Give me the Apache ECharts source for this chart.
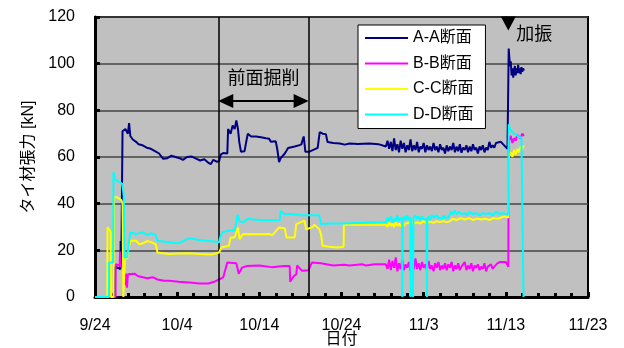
<!DOCTYPE html>
<html>
<head>
<meta charset="utf-8">
<script src="https://cdn.jsdelivr.net/npm/echarts@6/dist/echarts.min.js"></script>
<style>
  html, body { margin: 0; padding: 0; background: #fff; }
  #chart { width: 624px; height: 348px; }
</style>
</head>
<body>
<div id="chart"></div>
<script>
// x = days elapsed since 9/24, y = tie-rod tension [kN]
const dateLabels = ['9/24', '10/4', '10/14', '10/24', '11/3', '11/13', '11/23'];
const seriesNames = ['A-A断面', 'B-B断面', 'C-C断面', 'D-D断面'];
const seriesColors = ['#000080', '#ff00ff', '#ffff00', '#00ffff'];

const excavationStart = 15;   // 10/9
const excavationEnd = 26;     // 10/20
const shakingDay = 50.3;

const sectionAA = [
  [0, 0], [2.4, 0], [2.45, 13], [3.1, 12], [3.12, 24], [3.2, 13], [3.3, 13], [3.35, 71],
  [3.7, 72], [4.0, 70], [4.15, 74.5], [4.3, 69], [4.6, 67.5], [5.0, 66.5], [5.3, 65.5],
  [5.8, 65], [6.3, 64], [6.8, 63.5], [7.3, 62.5], [7.8, 61.5], [8.3, 59.2], [8.8, 59.5],
  [9.3, 60.6], [9.8, 60], [10.3, 59.5], [10.7, 58.8], [11.2, 60], [11.8, 60.2], [12.3, 59.3],
  [12.8, 58.5], [13.3, 59], [13.8, 57.5], [14.1, 57], [14.4, 58.8], [14.8, 58], [15.1, 58.2],
  [15.3, 61], [15.6, 61.7], [16.1, 61.5], [16.2, 72], [16.5, 70], [16.75, 73.5], [17.0, 72],
  [17.2, 75.7], [17.4, 72], [17.56, 66.4], [17.76, 62.3], [18.2, 62.5], [18.4, 66.4],
  [18.6, 70], [19.0, 68.8], [19.6, 68.8], [20.2, 68.5], [20.8, 68], [21.2, 67.8], [21.4, 66.5],
  [22.0, 66.7], [22.2, 63], [22.4, 57.8], [22.6, 59.5], [23.1, 61.5], [23.5, 63.9],
  [24.3, 64.5], [25.1, 65.3], [25.4, 68.8], [25.6, 62.3], [26.1, 62.3], [27.1, 63.9],
  [27.35, 70.7], [27.7, 70], [28.1, 69.8], [28.3, 66.4], [29.0, 66], [29.8, 65.8],
  [30.4, 65.3], [31.0, 65.8], [32.0, 65.6], [33.4, 65.8], [33.6, 66.4], [34.5, 65.5],
  [35.4, 64.5], [35.6, 67], [35.8, 63.5], [36.0, 66.5], [36.2, 62.5], [36.4, 68], [36.6, 63],
  [36.8, 65.5], [37.0, 62], [37.2, 67], [37.4, 63.5], [37.6, 66], [37.8, 62], [38.0, 65],
  [38.2, 63], [38.4, 67.5], [38.6, 62.5], [38.8, 65], [39.0, 63], [39.2, 66.5], [39.4, 62],
  [39.6, 64.5], [39.8, 63.5], [40.0, 66], [40.2, 62], [40.4, 65], [40.6, 63], [40.8, 64.5],
  [41.0, 62.5], [41.2, 66], [41.4, 63], [41.6, 64.5], [41.8, 62], [42.0, 65.5], [42.2, 63],
  [42.4, 64], [42.6, 61.5], [42.8, 65], [43.0, 62.5], [43.2, 64.5], [43.4, 63], [43.6, 66],
  [43.8, 62], [44.0, 64.5], [44.2, 62.5], [44.4, 65.5], [44.6, 61.8], [44.8, 64], [45.0, 63],
  [45.2, 65], [45.4, 62], [45.6, 64.5], [45.8, 62.5], [46.0, 65.5], [46.2, 63], [46.4, 64],
  [46.6, 61.5], [46.8, 64.5], [47.0, 63], [47.2, 65], [47.4, 62], [47.6, 64], [47.8, 63],
  [48.0, 66.5], [48.2, 64], [48.4, 65], [48.6, 64], [48.8, 66], [49.0, 65.5], [49.4, 66.5],
  [49.8, 65], [50.2, 63.5], [50.3, 64], [50.35, 106.5], [50.5, 99], [50.6, 101], [50.7, 95],
  [50.8, 98], [50.9, 94], [51.0, 97], [51.1, 99], [51.2, 95], [51.3, 98], [51.4, 96],
  [51.5, 99.5], [51.6, 96], [51.7, 98], [51.8, 95.5], [51.9, 98.5], [52.0, 96.5], [52.1, 98],
  [52.2, 97]
];

const sectionBB = [
  [0, 0], [2.5, 0], [2.52, 14], [3.0, 13.5], [3.05, 19.5], [3.15, 13], [3.5, 12.5], [3.6, 5],
  [3.75, 10], [3.9, 4], [4.0, 9.7], [4.8, 10], [5.2, 9], [5.8, 8.5], [6.4, 8], [7.0, 8.5],
  [7.6, 7.5], [8.4, 7], [9.0, 7], [10.2, 6.5], [11.5, 6.2], [12.7, 5.8], [13.8, 5.8],
  [14.5, 6.5], [15.1, 7.5], [15.6, 8.4], [16.1, 14.8], [17.2, 14.5], [17.5, 10], [17.9, 12.6],
  [18.5, 13.3], [20.0, 13.5], [21.5, 12.8], [23.0, 13.3], [23.7, 13.3], [23.75, 6.5],
  [24.2, 9], [24.5, 9.7], [24.6, 13.5], [25.2, 11.2], [26.0, 11.5], [26.4, 14.8], [27.5, 14.5],
  [29.0, 13.5], [30.3, 13.8], [31.0, 13.5], [32.5, 14], [33.0, 13.5], [34.0, 14], [35.4, 14],
  [35.6, 12], [35.8, 16], [36.0, 11.5], [36.2, 15.5], [36.4, 12.5], [36.6, 17], [36.8, 11],
  [37.0, 14.5], [37.2, 12], [37.4, 16], [37.6, 11.5], [37.8, 14], [38.0, 12.5], [38.2, 15],
  [38.4, 11], [38.6, 13.5], [38.8, 12], [39.0, 16.5], [39.2, 12], [39.4, 14.5], [39.6, 11.5],
  [39.8, 15], [40.0, 12.5], [40.2, 14], [40.4, 11.5], [40.6, 15.5], [40.8, 12], [41.0, 13.5],
  [41.2, 11], [41.4, 14.5], [41.6, 12.5], [41.8, 15], [42.0, 11.5], [42.2, 13.5], [42.4, 12],
  [42.6, 14.5], [42.8, 11.5], [43.0, 14], [43.2, 12.5], [43.4, 15], [43.6, 11], [43.8, 13.5],
  [44.0, 12], [44.2, 14.5], [44.4, 11.5], [44.6, 13], [44.8, 12.5], [45.0, 15], [45.2, 11.5],
  [45.4, 13.5], [45.6, 12], [45.8, 14.5], [46.0, 11], [46.2, 13.5], [46.4, 12.5], [46.6, 14],
  [46.8, 11.5], [47.0, 13], [47.2, 12], [47.4, 14.5], [47.6, 11], [47.8, 13], [48.0, 12.5],
  [48.2, 14], [48.4, 12], [48.6, 13], [48.8, 13.5], [49.0, 14.5], [49.3, 15], [49.6, 15],
  [50.0, 15], [50.2, 14.5], [50.3, 13], [50.35, 67], [50.6, 69], [50.8, 66], [51.0, 68],
  [51.2, 67], [51.4, 69.5], [51.6, 70], [51.8, 68], [52.0, 70], [52.2, 69]
];

const sectionCC = [
  [0, 0], [1.5, 0], [1.52, 29.8], [1.75, 29.8], [1.9, 28], [1.95, 0], [2.25, 0], [2.3, 42.7],
  [2.7, 42.7], [2.9, 42], [3.2, 41.5], [3.35, 40], [3.45, 0], [3.6, 0], [3.65, 16.9],
  [3.9, 16.5], [4.1, 21.2], [4.35, 24.1], [5.0, 24.1], [5.4, 22.6], [5.8, 23], [6.4, 24],
  [6.8, 23.5], [7.4, 22.6], [7.6, 19.1], [9.0, 18.4], [10.2, 18.6], [11.5, 18.8], [12.7, 18.4],
  [14.2, 18.2], [15.1, 19.1], [15.4, 21.2], [16.3, 22], [16.5, 25.5], [17.0, 25.5],
  [17.4, 29.8], [17.6, 24.8], [18.0, 27], [19.6, 26.9], [21.2, 27], [21.6, 26.5], [22.4, 29.8],
  [23.1, 29.5], [23.3, 25.5], [24.3, 25.5], [24.5, 31.2], [25.5, 32.7], [25.7, 29], [26.5, 30],
  [26.7, 31], [27.3, 29], [27.5, 27], [27.7, 22], [28.5, 21.5], [29.5, 21.2], [30.25, 21.5],
  [30.3, 31], [33.0, 31], [35.4, 31], [35.6, 30], [35.8, 32], [36.0, 30.5], [36.2, 31.5],
  [36.4, 30], [36.6, 32], [36.8, 30.5], [37.0, 31.5], [37.2, 30.2], [37.4, 32], [37.6, 30.5],
  [37.8, 31.5], [38.0, 31], [38.4, 32], [38.8, 31.5], [39.2, 32], [39.6, 31.5], [40.0, 32.5],
  [40.4, 31.5], [40.8, 32.3], [41.2, 31.8], [41.6, 32.5], [42.0, 32], [42.4, 32.6], [42.8, 32],
  [43.2, 32.5], [43.5, 33.5], [44.0, 33], [44.5, 33.8], [45.0, 33.2], [45.5, 33.8], [46.0, 33],
  [46.5, 33.6], [47.0, 33.2], [47.5, 33.5], [48.0, 33], [48.5, 33.8], [49.0, 33.5],
  [49.5, 34.2], [50.0, 34.5], [50.3, 34], [50.35, 60], [50.6, 62], [50.8, 60], [51.0, 63],
  [51.2, 61], [51.4, 63.5], [51.6, 62], [51.8, 64.5], [52.0, 63.5], [52.2, 65]
];

const sectionDD = [
  [0, 0], [1.7, 0], [1.72, 14.8], [2.2, 14.8], [2.25, 53.5], [2.5, 50], [2.9, 49.5],
  [3.3, 48.5], [3.5, 43.4], [3.6, 16.9], [3.9, 17], [4.3, 27.7], [5.0, 27], [5.8, 27.7],
  [6.4, 26.5], [6.8, 27.3], [7.4, 26.5], [7.6, 24.1], [9.0, 23.5], [10.2, 23], [11.0, 24.5],
  [11.5, 25.2], [12.7, 24.4], [14.5, 23.8], [15.1, 23.5], [15.3, 26.2], [15.5, 27.7],
  [16.3, 28.5], [17.0, 28.5], [17.36, 35.2], [17.6, 32.4], [18.0, 32], [18.6, 33.5],
  [20.2, 32.9], [22.0, 33], [22.5, 32.9], [22.6, 37], [23.0, 35.6], [24.0, 35.6], [25.0, 35],
  [26.0, 35], [27.3, 35], [27.5, 31.3], [28.5, 31.5], [30.0, 31.5], [33.0, 31.8], [35.4, 32],
  [35.6, 34], [35.8, 32.5], [36.0, 34.5], [36.2, 32], [36.4, 33.5], [36.6, 32.5], [36.8, 35],
  [37.0, 32.5], [37.2, 34], [37.38, 33], [37.4, 0], [37.45, 33], [37.6, 34.5], [37.8, 33],
  [38.0, 35], [38.2, 33], [38.38, 34], [38.4, 0], [38.45, 33.5], [38.65, 34], [38.7, 0],
  [38.75, 34], [39.0, 35], [39.2, 33.5], [39.4, 34.5], [39.6, 33], [39.8, 34.5], [40.0, 33.5],
  [40.2, 34], [40.35, 33], [40.4, 0], [40.45, 33.5], [40.6, 34.5], [40.8, 33], [41.0, 35],
  [41.2, 34], [41.4, 33.5], [41.6, 35], [41.8, 34], [42.0, 34.5], [42.2, 33.5], [42.4, 35],
  [42.6, 34], [42.8, 34.5], [43.0, 34], [43.3, 36.5], [43.5, 35.5], [43.8, 37], [44.0, 35.5],
  [44.3, 36.5], [44.6, 35.5], [45.0, 36], [45.3, 35], [45.6, 36.5], [46.0, 35.5], [46.4, 36],
  [46.8, 35], [47.2, 36], [47.6, 35.5], [48.0, 36], [48.4, 35], [48.8, 36.5], [49.2, 35.5],
  [49.6, 36], [50.0, 35.5], [50.3, 35.5], [50.35, 74], [50.5, 72], [50.7, 71], [51.0, 70],
  [51.3, 69.5], [51.6, 68.5], [51.9, 68.5], [52.1, 68], [52.15, 0]
];

const seriesData = [sectionAA, sectionBB, sectionCC, sectionDD];

const FONT = "'Liberation Sans', Arial, 'Noto Sans CJK JP', sans-serif";
const chart = echarts.init(document.getElementById('chart'), null, { renderer: 'canvas' });

const series = seriesData.map((data, i) => ({
  name: seriesNames[i],
  type: 'line',
  data: data,
  symbol: 'none',
  showSymbol: false,
  silent: true,
  lineStyle: { color: seriesColors[i], width: 2 },
  itemStyle: { color: seriesColors[i] },
  z: 3 + i
}));

// Excavation period: boundary lines, double-headed arrow and caption
series[0].markLine = {
  silent: true,
  animation: false,
  symbol: 'none',
  label: { show: false },
  lineStyle: { color: '#000', width: 1.5, type: 'solid' },
  data: [{ xAxis: excavationStart }, { xAxis: excavationEnd }]
};
series[1].markLine = {
  silent: true,
  animation: false,
  symbol: ['triangle', 'triangle'],
  symbolSize: [14, 15],
  label: { show: false },
  lineStyle: { color: '#000', width: 2, type: 'solid' },
  itemStyle: { color: '#000' },
  data: [[{ coord: [excavationStart + 0.91, 84] }, { coord: [excavationEnd - 0.91, 84] }]]
};
series[0].markPoint = {
  silent: true,
  animation: false,
  data: [
    {
      coord: [(excavationStart + excavationEnd) / 2, 93.4],
      symbolSize: 0,
      label: { show: true, position: 'inside', formatter: '前面掘削', color: '#000', fontSize: 18, fontFamily: FONT }
    },
    {
      coord: [shakingDay, 117.2],
      symbol: 'triangle',
      symbolRotate: 180,
      symbolSize: [15, 14],
      itemStyle: { color: '#000' },
      label: { show: false }
    },
    {
      coord: [shakingDay, 112.4],
      symbolSize: 0,
      label: { show: true, position: 'right', distance: 8, formatter: '加振', color: '#000', fontSize: 18, fontFamily: FONT }
    }
  ]
};

chart.setOption({
  animation: false,
  backgroundColor: '#ffffff',
  grid: {
    left: 95, right: 36, top: 17, bottom: 51,
    outerBoundsMode: 'none',
    containLabel: false,
    show: true,
    backgroundColor: '#c0c0c0',
    borderColor: '#000',
    borderWidth: 2
  },
  legend: {
    data: seriesNames,
    orient: 'vertical',
    left: 358,
    top: 25,
    icon: 'rect',
    itemWidth: 43,
    itemHeight: 2,
    itemGap: 9.5,
    padding: [5, 12, 6, 7],
    backgroundColor: '#ffffff',
    borderColor: '#000',
    borderWidth: 1,
    borderRadius: 0,
    selectedMode: false,
    textStyle: { color: '#000', fontSize: 16, lineHeight: 14, fontFamily: FONT }
  },
  xAxis: {
    type: 'value',
    min: 0,
    max: 60,
    interval: 10,
    name: '日付',
    nameLocation: 'middle',
    nameGap: 35,
    nameMoveOverlap: false,
    nameTextStyle: { color: '#000', fontSize: 16, lineHeight: 16, fontFamily: FONT },
    axisLine: { show: true, onZero: false, lineStyle: { color: '#000', width: 3 } },
    axisTick: { show: true, inside: true, length: 5, lineStyle: { color: '#000', width: 3 } },
    minorTick: { show: true, splitNumber: 5, length: 4, lineStyle: { color: '#000', width: 3 } },
    splitLine: { show: false },
    axisLabel: {
      margin: 21,
      color: '#000',
      fontSize: 16,
      fontFamily: FONT,
      formatter: (v) => dateLabels[Math.round(v / 10)]
    }
  },
  yAxis: {
    type: 'value',
    min: 0,
    max: 120,
    interval: 20,
    name: 'タイ材張力 [kN]',
    nameLocation: 'middle',
    nameGap: 58,
    nameMoveOverlap: false,
    nameTextStyle: { color: '#000', fontSize: 16, fontFamily: FONT },
    axisLine: { show: true, onZero: false, lineStyle: { color: '#000', width: 3 } },
    axisTick: { show: true, inside: true, length: 5, lineStyle: { color: '#000', width: 3 } },
    splitLine: { show: true, lineStyle: { color: '#454545', width: 1.5 } },
    axisLabel: { margin: 20, color: '#000', fontSize: 16, fontFamily: FONT }
  },
  series: series
});
</script>
</body>
</html>
